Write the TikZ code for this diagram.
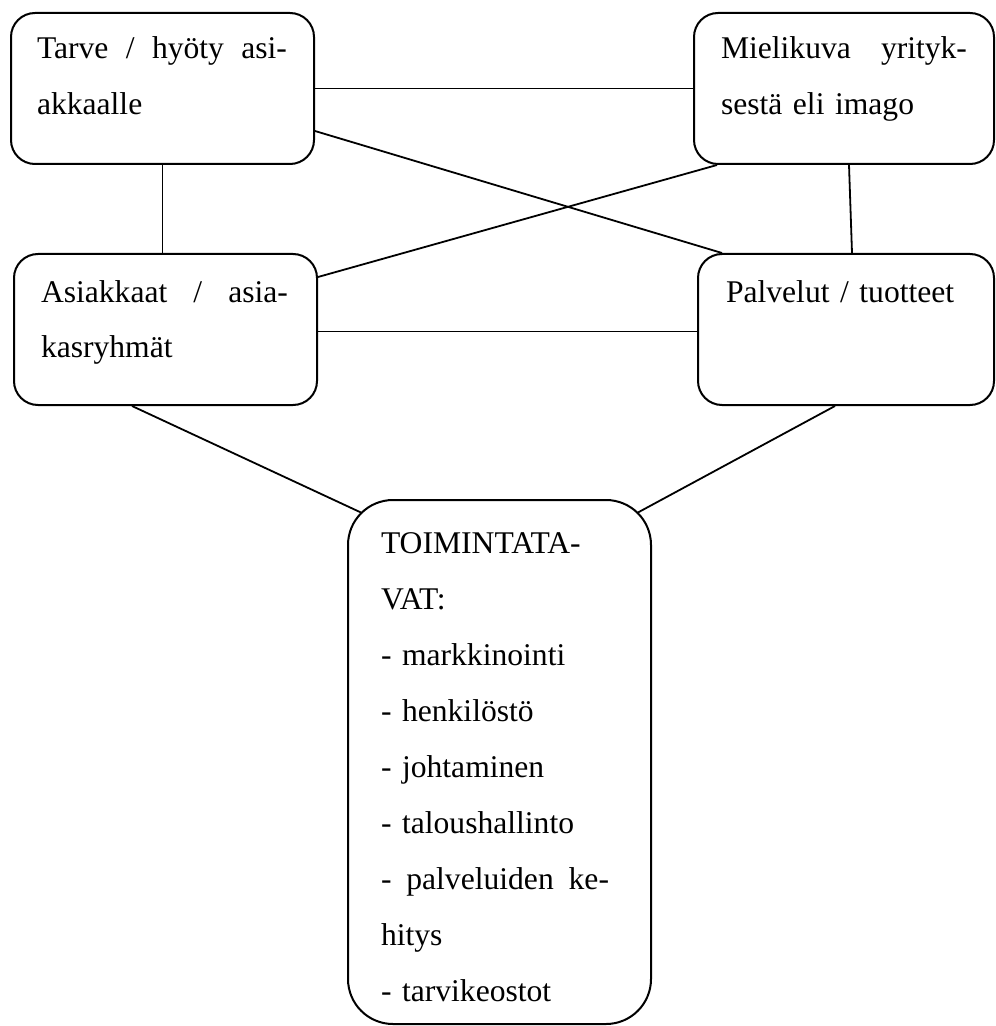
\documentclass[tikz,border=0pt]{standalone}
\usepackage{fontspec}
\setmainfont{Liberation Serif}
\usepackage{tikz}
\usetikzlibrary{positioning, calc}
\definecolor{mydark}{RGB}{0,0,0}
\newcommand{\spread}[2]{\leavevmode\hbox to #1{#2}}
\tikzset{
  box/.style={rectangle, draw=mydark, rounded corners=12pt, line width=1pt,
    align=left, inner ysep=0pt, anchor=north west,
    font=\fontsize{15.8pt}{28pt}\selectfont},
  bigbox/.style={box, rounded corners=22.5pt},
  link/.style={line width=0.9pt, color=mydark}
}

\begin{document}
\begin{tikzpicture}[x=0.5pt, y=-0.5pt]
  \useasboundingbox (0,0) rectangle (995,1026);
  % Top row
  \node[box, inner xsep=13pt, text width=125.5pt, text height=23pt, text depth=52.5pt] (tarve) at (10,12)
    {\spread{125pt}{Tarve\hfill/\hfill hyöty\hfill asi-}\\akkaalle};
  \node[box, inner xsep=13.5pt, text width=123pt, text height=23pt, text depth=52.5pt] (mielikuva) at (693,12)
    {\spread{123pt}{Mielikuva\hfill yrityk-}\\sestä eli imago};

  % Middle row
  \node[box, inner xsep=13.5pt, text width=124.5pt, text height=24pt, text depth=51.5pt] (asiakkaat) at (13,253)
    {\spread{123.5pt}{Asiakkaat\hfill/\hfill asia-}\\kasryhmät};
  \node[box, inner xsep=14pt, text width=120pt, text height=24pt, text depth=51.5pt] (palvelut) at (697,253)
    {Palvelut / tuotteet};

  % Bottom box
  \node[bigbox, inner xsep=16.5pt, text width=118.5pt, text height=26.5pt, text depth=235.5pt] (toiminta) at (347,499)
    {TOIMINTATA-\\VAT:\\- markkinointi\\- henkilöstö\\- johtaminen\\- taloushallinto\\\spread{114pt}{-\hfill palveluiden\hfill ke-}\\hitys\\- tarvikeostot};

  % Connections
  \draw[link] (tarve) -- (mielikuva);
  \draw[link] ([yshift=-21.25pt]tarve.east) -- ([xshift=12.5pt]palvelut.north west);
  \draw[link] ([xshift=12pt]mielikuva.south west) -- ([yshift=-12pt]asiakkaat.north east);
  \draw[link] (tarve.south) -- (tarve.south |- asiakkaat.north);
  \draw[link] ([xshift=2.5pt]mielikuva.south) -- ([xshift=3pt]palvelut.north);
  \draw[link] ([yshift=-1pt]asiakkaat.east) -- ([yshift=-1pt]palvelut.west);
  \draw[link] ([xshift=59.5pt]asiakkaat.south west) -- ([shift={(7.5pt,-7pt)}]toiminta.north west);
  \draw[link] ([xshift=69pt]palvelut.south west) -- ([shift={(-7.5pt,-7pt)}]toiminta.north east);
\end{tikzpicture}
\end{document}
